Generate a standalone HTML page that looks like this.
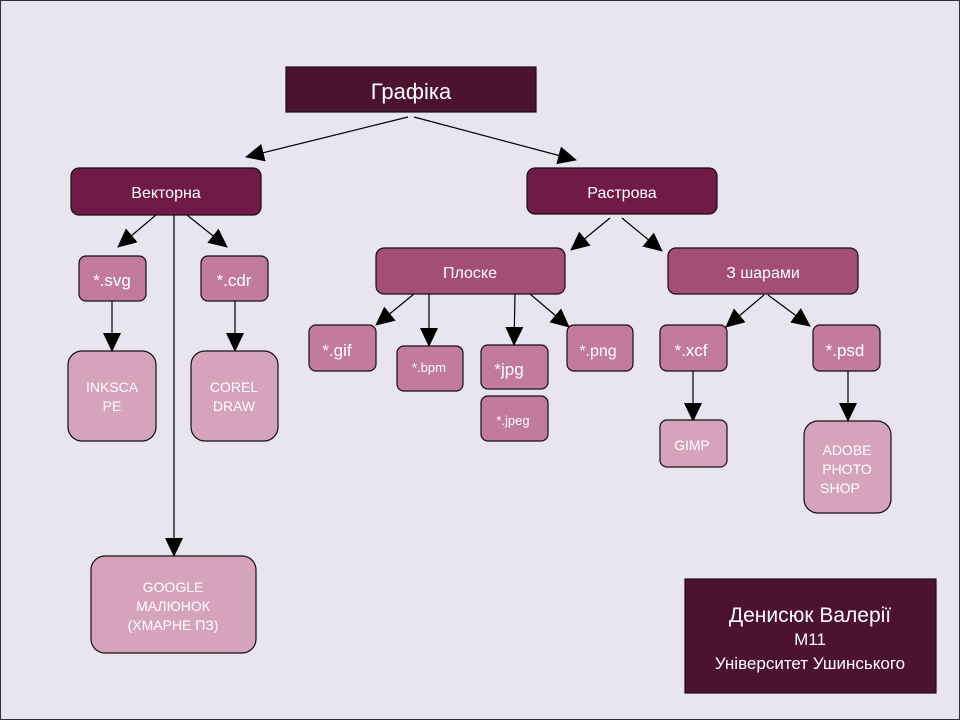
<!DOCTYPE html>
<html><head><meta charset="utf-8"><style>
body{margin:0;background:#fff}
svg{display:block}
text{font-family:"Liberation Sans",sans-serif;fill:#fff;text-anchor:middle}
</style></head><body>
<svg width="960" height="720" viewBox="0 0 960 720" xmlns="http://www.w3.org/2000/svg">
<defs>
<marker id="a" markerWidth="20" markerHeight="20" refX="18" refY="10" orient="auto" markerUnits="userSpaceOnUse">
<path d="M0,1 L19,10 L0,19 Z" fill="#000"/></marker>
</defs>
<rect x="0.5" y="0.5" width="959" height="719" fill="#e8e5f0" stroke="#333"/>
<g stroke="#000" stroke-width="1.2" fill="none" marker-end="url(#a)">
<line x1="408" y1="117" x2="246" y2="157"/>
<line x1="414" y1="117" x2="576" y2="160"/>
<line x1="156" y1="215" x2="118" y2="247"/>
<line x1="187" y1="215" x2="227" y2="247"/>
<line x1="174" y1="215" x2="174" y2="556"/>
<line x1="112" y1="301" x2="112" y2="351"/>
<line x1="235" y1="301" x2="235" y2="351"/>
<line x1="610" y1="218" x2="571" y2="250"/>
<line x1="622" y1="218" x2="662" y2="251"/>
<line x1="414" y1="294" x2="376" y2="325"/>
<line x1="429" y1="294" x2="429" y2="346"/>
<line x1="515" y1="294" x2="514" y2="345"/>
<line x1="530" y1="294" x2="569" y2="327"/>
<line x1="764" y1="295" x2="726" y2="327"/>
<line x1="768" y1="295" x2="810" y2="326"/>
<line x1="693" y1="371" x2="693" y2="421"/>
<line x1="848" y1="371" x2="848" y2="421"/>
</g>
<g stroke="#111" stroke-width="1.2">
<rect x="286" y="67" width="250" height="45" fill="#4d1232"/>
<rect x="71" y="168" width="190" height="47" rx="8" fill="#721a47"/>
<rect x="527" y="168" width="190" height="46" rx="8" fill="#721a47"/>
<rect x="376" y="248" width="189" height="46" rx="8" fill="#a44d76"/>
<rect x="668" y="248" width="190" height="46" rx="8" fill="#a44d76"/>
<g fill="#c27a9f">
<rect x="79" y="256" width="67" height="45" rx="7"/>
<rect x="201" y="256" width="67" height="45" rx="7"/>
<rect x="309" y="325" width="67" height="46" rx="7"/>
<rect x="397" y="346" width="66" height="45" rx="7"/>
<rect x="481" y="345" width="67" height="44" rx="7"/>
<rect x="481" y="396" width="67" height="45" rx="7"/>
<rect x="567" y="325" width="66" height="46" rx="7"/>
<rect x="660" y="325" width="67" height="46" rx="7"/>
<rect x="813" y="325" width="67" height="46" rx="7"/>
</g>
<g fill="#d6a3bd">
<rect x="68" y="351" width="88" height="90" rx="14"/>
<rect x="191" y="351" width="87" height="90" rx="14"/>
<rect x="91" y="556" width="165" height="97" rx="14"/>
<rect x="660" y="420" width="67" height="47" rx="7"/>
<rect x="804" y="421" width="87" height="92" rx="14"/>
</g>
<rect x="685" y="579" width="251" height="114" fill="#4d1232"/>
</g>
<text x="411" y="99" font-size="22">Графіка</text>
<text x="166" y="198" font-size="16">Векторна</text>
<text x="622" y="198" font-size="16">Растрова</text>
<text x="470" y="278" font-size="16">Плоске</text>
<text x="763" y="278" font-size="16">З шарами</text>
<text x="112" y="286" font-size="17">*.svg</text>
<text x="234" y="286" font-size="17">*.cdr</text>
<text x="337" y="356" font-size="17">*.gif</text>
<text x="429" y="372" font-size="13">*.bpm</text>
<text x="509" y="375" font-size="17">*jpg</text>
<text x="513" y="425" font-size="13">*.jpeg</text>
<text x="598" y="356" font-size="16">*.png</text>
<text x="691" y="356" font-size="17">*.xcf</text>
<text x="845" y="356" font-size="17">*.psd</text>
<g font-size="14">
<text x="112" y="392">INKSCA</text><text x="112" y="411">PE</text>
<text x="234" y="392">COREL</text><text x="234" y="411">DRAW</text>
<text x="173" y="592">GOOGLE</text><text x="173" y="611">МАЛЮНОК</text><text x="173" y="630">(ХМАРНЕ ПЗ)</text>
<text x="692" y="450">GIMP</text>
<text x="847" y="455">ADOBE</text><text x="847" y="474">PHOTO</text><text x="840" y="493">SHOP</text>
</g>
<text x="810" y="622" font-size="21">Денисюк Валерії</text>
<text x="810" y="645" font-size="17">М11</text>
<text x="810" y="669" font-size="17">Університет Ушинського</text>
</svg>
</body></html>
